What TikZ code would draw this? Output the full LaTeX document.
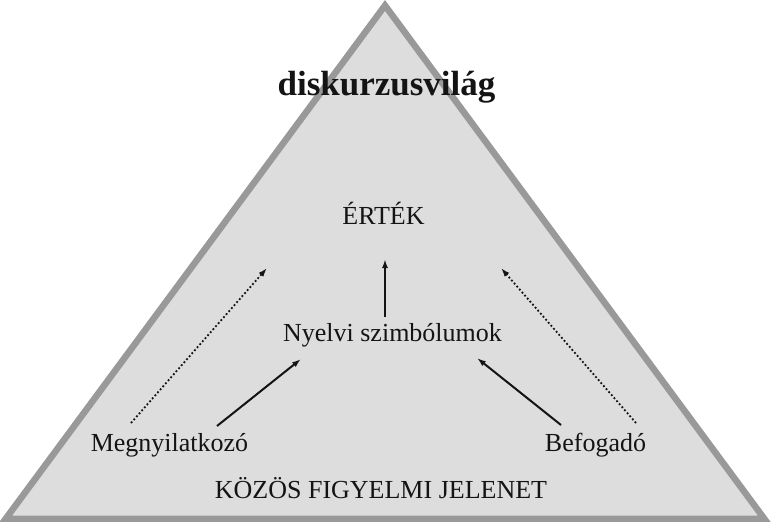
\documentclass[tikz,border=0pt]{standalone}
\usepackage{fontspec}
\setmainfont{Liberation Serif}
\usetikzlibrary{arrows.meta}
\definecolor{tfill}{RGB}{221,221,221}
\definecolor{tedge}{RGB}{153,153,153}
\definecolor{ink}{RGB}{20,20,20}
\begin{document}
\begin{tikzpicture}[x=1pt,y=-1pt,
  lbl/.style={font=\fontsize{26}{30}\selectfont, inner sep=0pt, anchor=base, text=ink},
  ttl/.style={font=\fontsize{35}{40}\selectfont\bfseries, inner sep=0pt, anchor=base, text=ink},
  solidarr/.style={line width=2pt, ink, -{Latex[length=9pt,width=6pt]}},
  dotarr/.style={line width=1.8pt, ink, dash pattern=on 1.8pt off 2.2pt, -{Latex[length=9pt,width=6pt]}},
  tri/.style={fill=tfill, draw=tedge, line width=6.5pt, line join=miter}]
\useasboundingbox (0,0) rectangle (771,522);
\fill[white] (0,0) rectangle (771,522);
\path[tri] (385,5.5) -- (764.3,518.75) -- (5.7,518.75) -- cycle;

\node[ttl] (title) at (386.5,95) {diskurzusvilág};
\node[lbl] (ertek) at (383.5,224) {ÉRTÉK};
\node[lbl] (nyelvi) at (392.5,341.7) {Nyelvi szimbólumok};
\node[lbl] (megny) at (169.5,451.7) {Megnyilatkozó};
\node[lbl] (befog) at (595.5,451.7) {Befogadó};
\node[lbl] (kozos) at (381,498.3) {KÖZÖS FIGYELMI JELENET};

\coordinate (v1) at (385,316.5);
\coordinate (v2) at (385,259);
\coordinate (ls1) at (217,426);
\coordinate (ls2) at (301,359);
\coordinate (rs1) at (561,425);
\coordinate (rs2) at (477,358);
\coordinate (ld1) at (131,423);
\coordinate (ld2) at (267,268);
\coordinate (rd1) at (636,423);
\coordinate (rd2) at (501,268);

\draw[solidarr] (v1) -- (v2);
\draw[solidarr] (ls1) -- (ls2);
\draw[solidarr] (rs1) -- (rs2);
\draw[dotarr] (ld1) -- (ld2);
\draw[dotarr] (rd1) -- (rd2);
\end{tikzpicture}
\end{document}
